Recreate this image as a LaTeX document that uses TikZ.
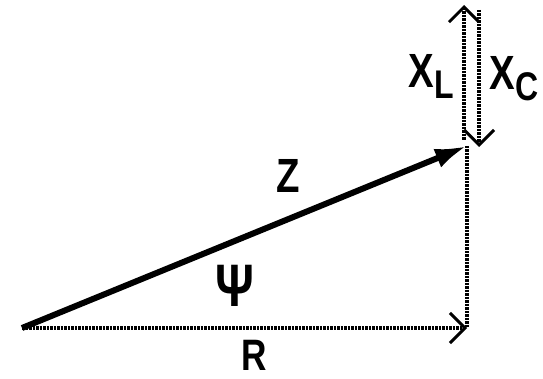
\documentclass[tikz,border=0pt]{standalone}
\usepackage{fontspec}
\setmainfont{Liberation Sans}
\usetikzlibrary{arrows.meta,positioning}
\tikzset{
  phasor/.style={-{Latex[length=32pt,width=20pt]}, line width=6pt},
  part/.style={-{Straight Barb[length=15pt,width=30pt,line width=3pt]}, line width=3.5pt, dash pattern=on 2.5pt off 1pt},
  side/.style={line width=3.5pt, dash pattern=on 2.5pt off 1pt},
  lbl/.style={font=\fontsize{48}{48}\selectfont\bfseries, inner sep=0pt, transform shape, xscale=0.8},
}
\newcommand{\subl}[1]{\raisebox{-11pt}{\fontsize{40}{40}\selectfont #1}}

\begin{document}
\begin{tikzpicture}[x=1pt,y=-1pt]
  \useasboundingbox (0,0) rectangle (543,379);

  % Corners of the triangle
  \coordinate (O) at (22,328);
  \coordinate (Rend) at (467,328);
  \coordinate (Zend) at (467,146);

  % Reactance arrows
  \coordinate (Lbot) at (464,140);
  \coordinate (Ltop) at (464,5);
  \coordinate (Ctop) at (479,10);
  \coordinate (Cbot) at (479,147);

  \draw[side] (Zend) -- (Rend);
  \draw[part] (O) -- (Rend);
  \draw[part] (Lbot) -- (Ltop);
  \draw[part] (Ctop) -- (Cbot);
  \draw[phasor] (O) -- (Zend);

  % Labels
  \node[lbl] (zlab) at (288,176) {Z};
  \node[lbl, font=\fontsize{60}{60}\selectfont\bfseries] (psilab) at (235,286) {Ψ};
  \node[lbl, font=\fontsize{44}{44}\selectfont\bfseries] (rlab) at (254,355) {R};
  \node[lbl] (xllab) at (431,76) {X\subl{L}};
  \node[lbl] (xclab) at (514,79) {X\subl{C}};
\end{tikzpicture}
\end{document}
